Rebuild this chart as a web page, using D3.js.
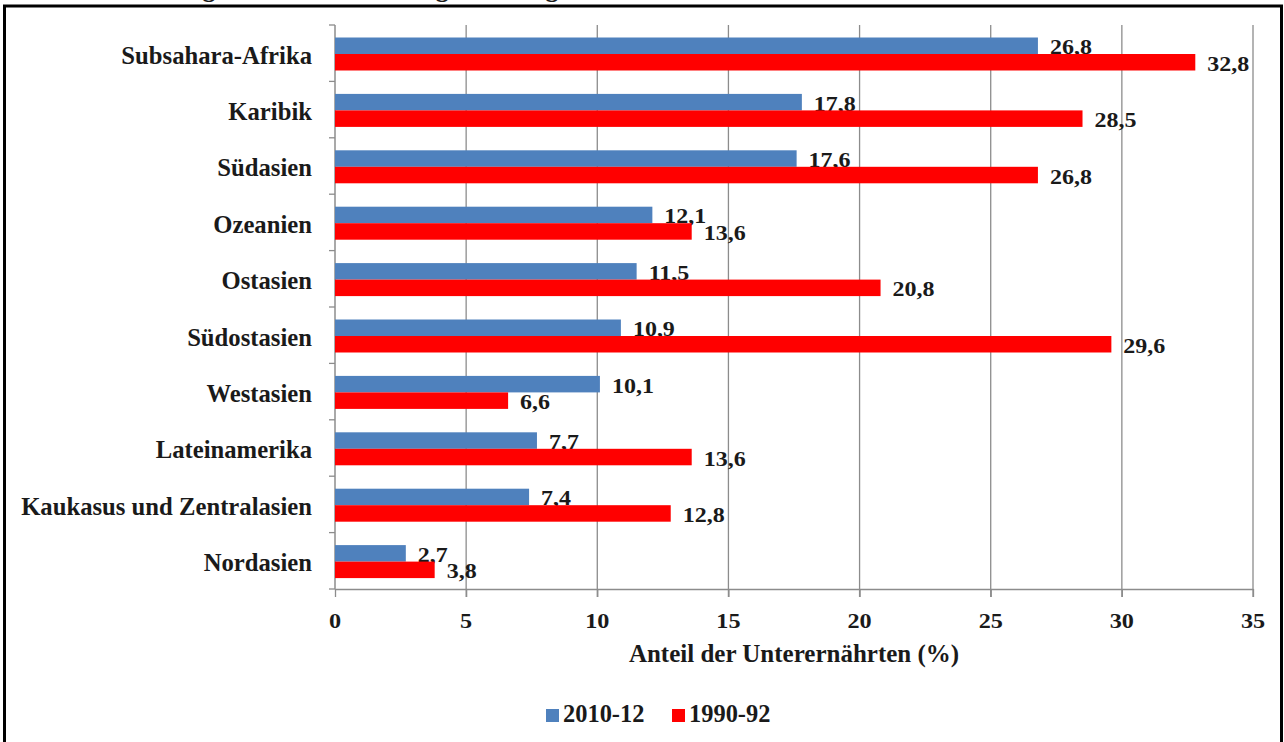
<!DOCTYPE html>
<html>
<head>
<meta charset="utf-8">
<script src="https://cdn.jsdelivr.net/npm/d3@7"></script>
<style>
  html, body { margin: 0; padding: 0; background: #fff; }
  svg { display: block; }
</style>
</head>
<body>
<svg id="chart" width="1284" height="742"></svg>
<script>
// Regions and shares of undernourished people (%)
const categories = [
  "Subsahara-Afrika", "Karibik", "Südasien", "Ozeanien", "Ostasien",
  "Südostasien", "Westasien", "Lateinamerika", "Kaukasus und Zentralasien", "Nordasien"
];
const values2010 = [26.8, 17.8, 17.6, 12.1, 11.5, 10.9, 10.1, 7.7, 7.4, 2.7];
const values1990 = [32.8, 28.5, 26.8, 13.6, 20.8, 29.6, 6.6, 13.6, 12.8, 3.8];
const seriesNames = ["2010-12", "1990-92"];
const seriesColors = ["#4F81BD", "#FF0000"];
const xTicks = [0, 5, 10, 15, 20, 25, 30, 35];
const chartTitle = "Entwicklung der Unterernährung nach Regionen";
const axisTitle = "Anteil der Unterernährten (%)";

const svg = d3.select("#chart");
const FONT = "'Liberation Serif', 'Times New Roman', serif";

// text helper: bold serif, optional horizontal stretch
function label(parent, x, y, str, size, anchor, sx) {
  return parent.append("text")
    .attr("transform", `translate(${x},${y}) scale(${sx || 1},1)`)
    .attr("text-anchor", anchor || "start")
    .style("font-family", FONT)
    .style("font-weight", "bold")
    .style("font-size", size + "px")
    .style("fill", "#1a1a1a")
    .text(str);
}

// frame
svg.append("rect")
  .attr("x", 4.5).attr("y", 6).attr("width", 1277).attr("height", 745)
  .attr("fill", "#fff").attr("stroke", "#000").attr("stroke-width", 3);

// title (sits above the frame)
label(svg, 74, -3, chartTitle, 26, "start");

const plot = { left: 335, right: 1253, top: 25, bottom: 589 };

const x = d3.scaleLinear().domain([0, 35]).range([plot.left, plot.right]);
const y = d3.scaleBand().domain(categories).range([plot.top + 0.8, plot.bottom + 0.8])
  .paddingInner(0.415).paddingOuter(0.2075);
const ySub = d3.scaleBand().domain([0, 1]).range([0, y.bandwidth()]);

// vertical grid lines with tick marks below the axis
svg.append("g").selectAll("line").data(xTicks.filter(d => d > 0)).join("line")
  .attr("x1", d => x(d)).attr("x2", d => x(d))
  .attr("y1", plot.top).attr("y2", plot.bottom + 8)
  .attr("stroke", "#8c8c8c").attr("stroke-width", 1.3);

// x axis
const xAxis = svg.append("g").attr("transform", `translate(0,${plot.bottom})`)
  .call(d3.axisBottom(x).tickValues(xTicks).tickSize(8).tickSizeOuter(0).tickFormat(d3.format("d")));
xAxis.select(".domain").attr("stroke", "#8c8c8c").attr("stroke-width", 1.5);
xAxis.selectAll(".tick line").attr("stroke", "#8c8c8c").attr("stroke-width", 1.3);
xAxis.selectAll(".tick text").remove();
xTicks.forEach(t => label(svg, x(t), 628, String(t), 22, "middle", 1.1));

// y axis line with category boundary ticks
svg.append("line")
  .attr("x1", plot.left).attr("x2", plot.left)
  .attr("y1", plot.top).attr("y2", plot.bottom)
  .attr("stroke", "#8c8c8c").attr("stroke-width", 1.5);
const step = (plot.bottom - plot.top) / categories.length;
svg.append("g").selectAll("line").data(d3.range(categories.length + 1)).join("line")
  .attr("x1", plot.left - 6).attr("x2", plot.left)
  .attr("y1", i => plot.top + i * step).attr("y2", i => plot.top + i * step)
  .attr("stroke", "#8c8c8c").attr("stroke-width", 1.3);

// category labels
categories.forEach(c => label(svg, 312, y(c) + y.bandwidth() / 2 + 9.5, c, 26, "end", 0.95));

// bars and value labels
const series = [values2010, values1990];
const fmt = v => d3.format(".1f")(v).replace(".", ",");
series.forEach((vals, s) => {
  const g = svg.append("g");
  g.selectAll("rect").data(vals).join("rect")
    .attr("x", x(0))
    .attr("y", (d, i) => y(categories[i]) + ySub(s))
    .attr("width", d => x(d) - x(0))
    .attr("height", ySub.bandwidth())
    .attr("fill", seriesColors[s]);
  vals.forEach((v, i) => {
    const cy = y(categories[i]) + ySub(s) + ySub.bandwidth() / 2;
    label(svg, x(v) + 12, cy + 8.5, fmt(v), 20, "start", 1.2);
  });
});

// axis title
label(svg, (plot.left + plot.right) / 2, 661.5, axisTitle, 25, "middle");

// legend
const legendItems = [
  { name: seriesNames[0], color: seriesColors[0], x: 546 },
  { name: seriesNames[1], color: seriesColors[1], x: 672 }
];
legendItems.forEach(it => {
  svg.append("rect").attr("x", it.x).attr("y", 709).attr("width", 13).attr("height", 13).attr("fill", it.color);
  label(svg, it.x + 17, 722, it.name, 26, "start", 0.94);
});
</script>
</body>
</html>
